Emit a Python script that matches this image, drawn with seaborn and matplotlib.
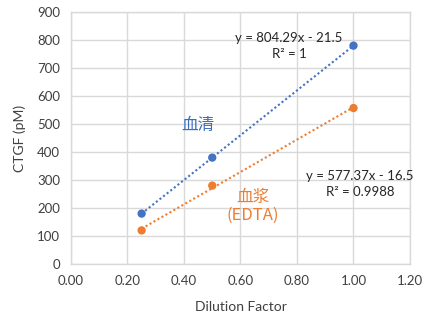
import matplotlib
matplotlib.use("Agg")
import matplotlib.pyplot as plt
import seaborn as sns
import pandas as pd

dilution = [0.25, 0.5, 1.0]
serum = [180, 380, 780]
plasma = [120, 280, 557]
xticks = [0.0, 0.2, 0.4, 0.6, 0.8, 1.0, 1.2]
yticks = [0, 100, 200, 300, 400, 500, 600, 700, 800, 900]
eq_serum = "y = 804.29x - 21.5\nR² = 1"
eq_plasma = "y = 577.37x - 16.5\nR² = 0.9988"
label_serum = "血清"
label_plasma = "血浆\n(EDTA)"

sns.set_style("white")
plt.rcParams['font.family'] = ['Lato', 'Noto Sans CJK SC', 'DejaVu Sans']

blue = "#4472C4"
orange = "#ED7D31"

df = pd.DataFrame({"x": dilution + dilution,
                   "y": serum + plasma,
                   "s": ["serum"] * 3 + ["plasma"] * 3})

fig = plt.figure(figsize=(4.29, 3.23), dpi=100)
ax = fig.add_axes([0.1655, 0.1827, 0.7902, 0.7801])

for name, col in [("serum", blue), ("plasma", orange)]:
    sub = df[df.s == name]
    sns.regplot(data=sub, x="x", y="y", ax=ax, ci=None, color=col,
                scatter_kws=dict(s=36, edgecolor="none", zorder=4, alpha=1),
                line_kws=dict(linestyle=(0, (1, 1.2)), linewidth=1.5, zorder=3))

ax.set_xlim(0, 1.2)
ax.set_ylim(0, 900)
ax.set_xticks(xticks)
ax.set_xticklabels([f"{v:.2f}" for v in xticks])
ax.set_yticks(yticks)
ax.grid(True, color="#D9D9D9", linewidth=1)
ax.set_axisbelow(True)
for sp in ax.spines.values():
    sp.set_color("#D9D9D9")
    sp.set_linewidth(1)
ax.tick_params(axis="both", length=0, labelsize=9.5, colors="#404040", pad=8)
ax.set_xlabel("Dilution Factor", fontsize=10, color="#404040", labelpad=10)
ax.set_ylabel("CTGF (pM)", fontsize=10, color="#404040", labelpad=8)

ax.text(0.772, 778, eq_serum, ha="center", va="center", fontsize=9.5,
        color="#262626", linespacing=1.4)
ax.text(1.023, 285, eq_plasma, ha="center", va="center", fontsize=9.5,
        color="#262626", linespacing=1.4)
ax.text(0.45, 496, label_serum, ha="center", va="center", fontsize=12,
        color="#3A6CC0", family=['Noto Sans CJK SC', 'DejaVu Sans'])
ax.text(0.644, 206, label_plasma, ha="center", va="center", fontsize=12,
        color=orange, linespacing=1.1, family=['Noto Sans CJK SC', 'DejaVu Sans'])

fig.savefig("out.png", dpi=100)
